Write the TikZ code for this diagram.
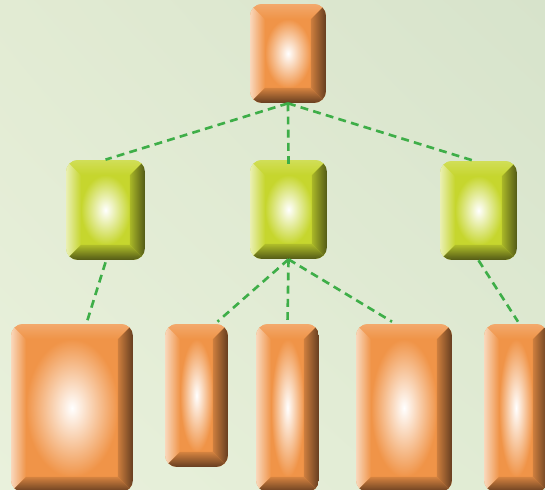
\documentclass[tikz,border=0pt]{standalone}
\usetikzlibrary{shapes,shadings}

\definecolor{bgA}{RGB}{226,235,211}
\definecolor{bgB}{RGB}{215,227,203}
\definecolor{bgC}{RGB}{233,241,220}
\definecolor{bgD}{RGB}{224,235,211}
\definecolor{orangebase}{RGB}{240,148,72}
\definecolor{orangedark}{RGB}{86,52,28}
\definecolor{limebase}{RGB}{198,214,46}
\definecolor{limedark}{RGB}{70,76,20}
\definecolor{linkgreen}{RGB}{62,174,72}

\def\bw{0.3cm}
\newcommand{\bevelbox}[3]{%
  \begin{scope}[sharp corners]
  \coordinate (sw) at (path picture bounding box.south west);
  \coordinate (ne) at (path picture bounding box.north east);
  \coordinate (nw) at (sw |- ne);
  \coordinate (se) at (ne |- sw);
  \fill[#1] (sw) rectangle (ne);
  \shade[inner color=white,outer color=#1] ([shift={(\bw,\bw)}]sw) rectangle ([shift={(-\bw,-\bw)}]ne);
  \shade[left color=#2,right color=#1,opacity=.85] (sw) -- ([shift={(\bw,\bw)}]sw) -- ([shift={(\bw,-\bw)}]nw) -- (nw) -- cycle;
  \shade[top color=#1!75!white,bottom color=#1,opacity=.8] (nw) -- ([shift={(\bw,-\bw)}]nw) -- ([shift={(-\bw,-\bw)}]ne) -- (ne) -- cycle;
  \shade[left color=#3!25!#1,right color=#3,opacity=.9] (ne) -- ([shift={(-\bw,-\bw)}]ne) -- ([shift={(-\bw,\bw)}]se) -- (se) -- cycle;
  \shade[top color=#3!20!#1,bottom color=#3,opacity=.9] (se) -- ([shift={(-\bw,\bw)}]se) -- ([shift={(\bw,\bw)}]sw) -- (sw) -- cycle;
  \end{scope}
}

\tikzset{
  orangebox/.style={shape=rectangle,rounded corners=0.24cm,inner sep=0pt,
    path picture={\bevelbox{orangebase}{orangebase!25!white}{orangedark}}},
  limebox/.style={shape=rectangle,rounded corners=0.24cm,inner sep=0pt,
    path picture={\bevelbox{limebase}{limebase!25!white}{limedark}}},
  link/.style={-,draw=linkgreen,line width=1.5pt,dash pattern=on 4.5pt off 3pt}
}

\begin{document}
\begin{tikzpicture}[x=0.02cm,y=-0.02cm]
\useasboundingbox (0,0) rectangle (545,490);
\clip (0,0) rectangle (545,490);
\shade[upper left=bgA,upper right=bgB,lower left=bgC,lower right=bgD] (0,0) rectangle (545,490);

\node[orangebox,minimum width=1.52cm,minimum height=1.98cm] (0) at (288,53.5) {};
\node[limebox,minimum width=1.58cm,minimum height=2cm] (1) at (105.5,210) {};
\node[limebox,minimum width=1.54cm,minimum height=1.98cm] (2) at (288.5,209.5) {};
\node[limebox,minimum width=1.54cm,minimum height=1.98cm] (3) at (478.5,210.5) {};
\node[orangebox,minimum width=2.44cm,minimum height=3.36cm] (4) at (72,408) {};
\node[orangebox,minimum width=1.26cm,minimum height=2.86cm] (5) at (196.5,395.5) {};
\node[orangebox,minimum width=1.26cm,minimum height=3.36cm] (6) at (287.5,408) {};
\node[orangebox,minimum width=1.92cm,minimum height=3.36cm] (7) at (404,408) {};
\node[orangebox,minimum width=1.28cm,minimum height=3.36cm] (8) at (516,408) {};

\path [link] (0.south) edge (1.north);
\path [link] (0.south) edge ([yshift=-0.1cm]2.north);
\path [link] (0.south) edge ([xshift=-0.1cm]3.north);
\path [link] ([yshift=-0.04cm]1.south) edge ([xshift=0.3cm,yshift=0.04cm]4.north);
\path [link] (2.south) edge ([xshift=0.42cm,yshift=0.04cm]5.north);
\path [link] (2.south) edge (6.north);
\path [link] (2.south) edge ([xshift=-0.24cm,yshift=0.04cm]7.north);
\path [link] (3.south) edge ([xshift=0.04cm,yshift=0.04cm]8.north);
\end{tikzpicture}
\end{document}
